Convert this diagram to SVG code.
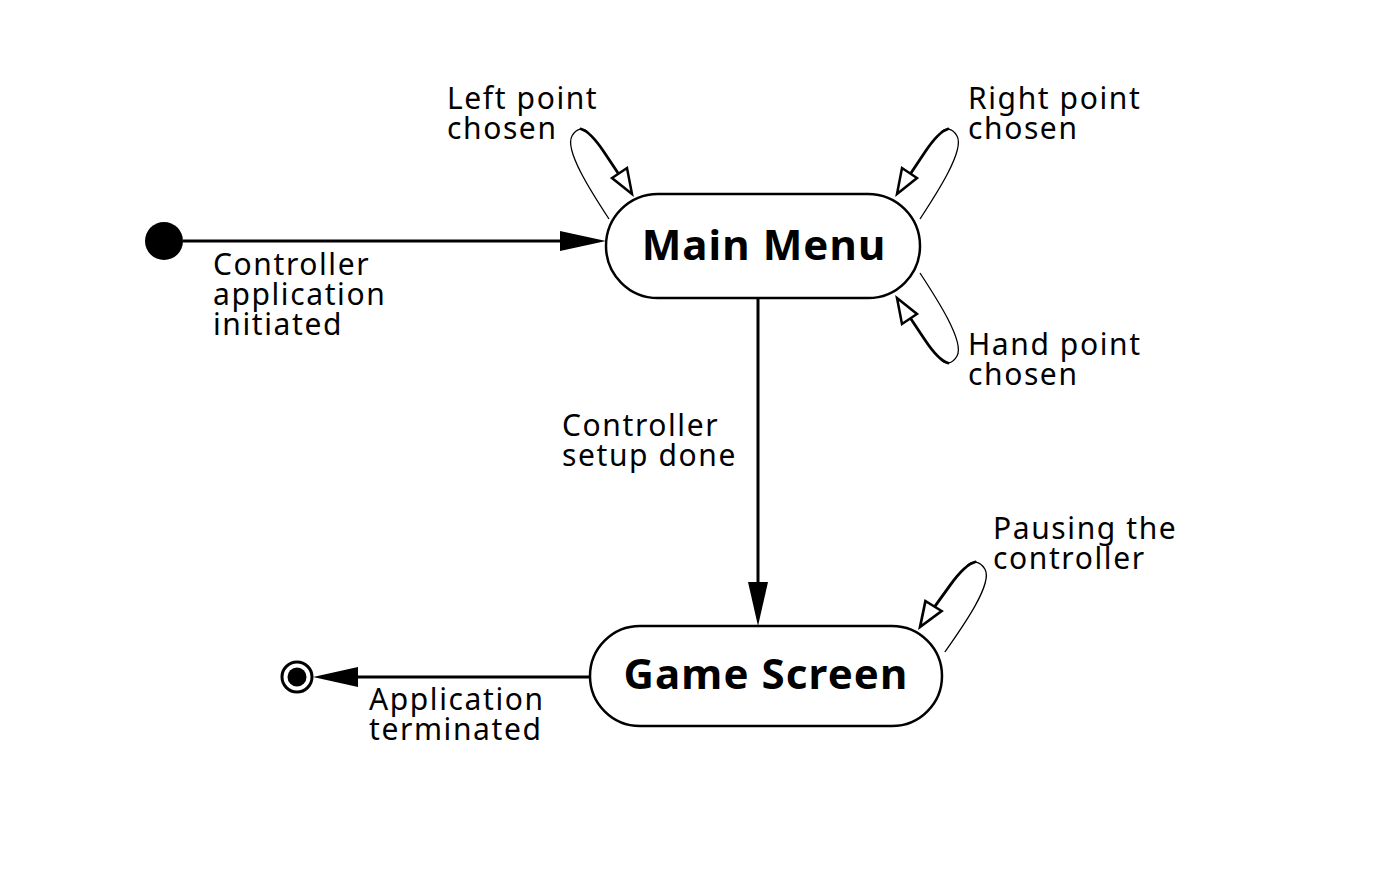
<svg xmlns="http://www.w3.org/2000/svg" width="1379" height="871" viewBox="0 0 1379 871">
<style>
.lbl{font-family:"Noto Sans","Open Sans",sans-serif;font-size:30px;fill:#000;letter-spacing:1.6px}
.title{font-family:"Noto Sans","Open Sans",sans-serif;font-size:42px;font-weight:bold;fill:#000;text-anchor:middle;letter-spacing:1.1px}
.state{fill:#fff;stroke:#000;stroke-width:2.5}
.thin{fill:none;stroke:#000;stroke-width:1.3}
.thick{fill:none;stroke:#000;stroke-width:2.8;stroke-linecap:round}
.hollow{fill:#fff;stroke:#000;stroke-width:2.5;stroke-linejoin:miter}
</style>
<defs>
  <g id="loop">
    <path class="thin" d="M609,219 C592,193 564,150 572,136 C577,127 584,128 588,132"/>
    <path class="thick" d="M581,129 C588,131 596,140 604,152 L618,173"/>
    <polygon class="hollow" points="632,194 612,178 627,168"/>
  </g>
</defs>
<rect width="1379" height="871" fill="#fff"/>
<g id="connectors">
  <line x1="183" y1="241" x2="565" y2="241" stroke="#000" stroke-width="3"/>
  <polygon points="606,241 560,231 560,251" fill="#000"/>
  <line x1="758" y1="298" x2="758" y2="590" stroke="#000" stroke-width="3"/>
  <polygon points="758,626 748,582 768,582" fill="#000"/>
  <line x1="590" y1="677" x2="350" y2="677" stroke="#000" stroke-width="3"/>
  <polygon points="313,677 358,667 358,687" fill="#000"/>
  <use href="#loop"/>
  <use href="#loop" transform="matrix(-1,0,0,1,1529,0)"/>
  <use href="#loop" transform="matrix(-1,0,0,-1,1529,492)"/>
  <use href="#loop" transform="matrix(-1.08,0,0,1,1602.6,433)"/>
</g>
<g id="initial"><circle cx="164" cy="241" r="19" fill="#000"/></g>
<g id="final"><circle cx="297" cy="677" r="15" fill="#fff" stroke="#000" stroke-width="3"/><circle cx="297" cy="677" r="9.5" fill="#000"/></g>
<g id="main-menu">
  <rect class="state" x="606" y="194" width="314" height="104" rx="52" ry="52"/>
  <text class="title" x="764" y="260">Main Menu</text>
</g>
<g id="game-screen">
  <rect class="state" x="590" y="626" width="352" height="100" rx="50" ry="50"/>
  <text class="title" x="766" y="689">Game Screen</text>
</g>
<g id="labels">
  <text class="lbl" x="213" y="275">Controller</text>
  <text class="lbl" x="213" y="305">application</text>
  <text class="lbl" x="213" y="335">initiated</text>
  <text class="lbl" x="447" y="109">Left point</text>
  <text class="lbl" x="447" y="139">chosen</text>
  <text class="lbl" x="968" y="109">Right point</text>
  <text class="lbl" x="968" y="139">chosen</text>
  <text class="lbl" x="968" y="355">Hand point</text>
  <text class="lbl" x="968" y="385">chosen</text>
  <text class="lbl" x="562" y="436">Controller</text>
  <text class="lbl" x="562" y="466">setup done</text>
  <text class="lbl" x="993" y="539">Pausing the</text>
  <text class="lbl" x="993" y="569">controller</text>
  <text class="lbl" x="369" y="710">Application</text>
  <text class="lbl" x="369" y="740">terminated</text>
</g>
</svg>
